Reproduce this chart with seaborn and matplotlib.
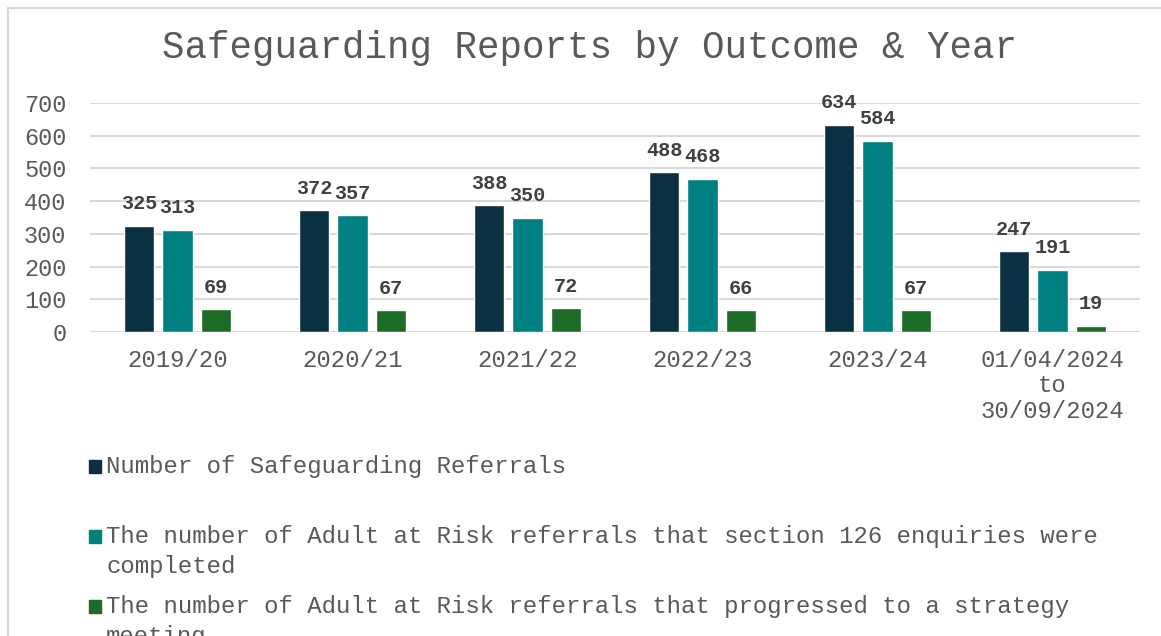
import pandas as pd
import matplotlib.pyplot as plt
import matplotlib.patches as mpatches
import seaborn as sns

years = ["2019/20", "2020/21", "2021/22", "2022/23", "2023/24",
         "01/04/2024\nto\n30/09/2024"]
referrals = [325, 372, 388, 488, 634, 247]
enquiries = [313, 357, 350, 468, 584, 191]
strategy = [69, 67, 72, 66, 67, 19]

series_names = [
    "Number of Safeguarding Referrals",
    "The number of Adult at Risk referrals that section 126 enquiries were\ncompleted",
    "The number of Adult at Risk referrals that progressed to a strategy\nmeeting",
]
colors = ["#0B3042", "#008080", "#1C6B27"]

df = pd.DataFrame({
    "year": years * 3,
    "value": referrals + enquiries + strategy,
    "series": [s for s in series_names for _ in years],
})

sns.set_style("white")
plt.rcParams["font.family"] = ["Liberation Mono", "DejaVu Sans Mono"]

W, H = 1161, 636
fig = plt.figure(figsize=(W / 100, H / 100), dpi=100)
ax = fig.add_axes([90 / W, 1 - 332 / H, 1050 / W, 229 / H])

sns.barplot(data=df, x="year", y="value", hue="series", order=years,
            hue_order=series_names, palette=colors, width=0.66, gap=0.2,
            saturation=1, legend=False, ax=ax)

for cont in ax.containers:
    ax.bar_label(cont, padding=9, fontsize=14.5, fontweight="bold", color="#404040")

ax.set_ylim(0, 700)
ax.set_yticks(range(0, 701, 100))
ax.set_xlim(-0.5, len(years) - 0.5)
ax.yaxis.grid(True, color="#D9D9D9", linewidth=1.5)
ax.set_axisbelow(True)
sns.despine(ax=ax, left=True, top=True, right=True, bottom=True)
ax.tick_params(axis="y", length=0, pad=17, labelsize=17, labelcolor="#595959")
ax.tick_params(axis="x", length=0, pad=12, labelsize=17.2, labelcolor="#595959")
for lbl in ax.get_xticklabels():
    lbl.set_linespacing(1.15)
ax.set_xlabel("")
ax.set_ylabel("")

fig.text(589 / W, 1 - 48 / H, "Safeguarding Reports by Outcome & Year",
         ha="center", va="center", fontsize=27, color="#595959")

# legend drawn by hand: Excel gives each entry the same slot height
legend_y = [466, 536, 606]
for name, col, y in zip(series_names, colors, legend_y):
    fig.patches.append(mpatches.Rectangle((89 / W, 1 - (y + 7) / H), 12 / W, 13 / H,
                                          transform=fig.transFigure, color=col))
    fig.text(106 / W, 1 - (y - 11) / H, name, ha="left", va="top", fontsize=17.3,
             color="#595959", linespacing=1.4)

# outer chart border
fig.patches.append(mpatches.Rectangle((8 / W, -0.2), 1.5, 1.2 - 8 / H, transform=fig.transFigure,
                                      fill=False, edgecolor="#D9D9D9", linewidth=1.5))

fig.savefig("out.png", dpi=100)
